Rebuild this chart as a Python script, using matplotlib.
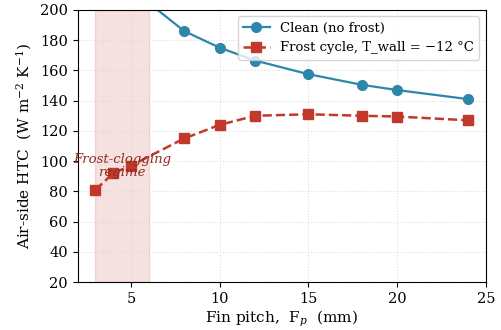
import matplotlib
matplotlib.use("Agg")
import matplotlib.pyplot as plt

plt.rcParams['font.family'] = ['DejaVu Serif']
plt.rcParams['mathtext.fontset'] = 'dejavuserif'

fin_pitch = [3, 4, 5, 8, 10, 12, 15, 18, 20, 24]
htc_clean = [262, 236, 214, 186, 175, 166.5, 157.5, 150.5, 147, 141]
htc_frost = [81, 92, 97, 115, 124, 130, 131, 130, 129.5, 127]

fig, ax = plt.subplots(figsize=(5.01, 3.30), dpi=100)

ax.axvspan(3, 6, color='#c0392b', alpha=0.15)
ax.plot(fin_pitch, htc_clean, '-o', color='#2e86ab', lw=1.6, ms=7,
        label='Clean (no frost)')
ax.plot(fin_pitch, htc_frost, '--s', color='#c0392b', lw=1.8, ms=7,
        label='Frost cycle, T_wall = \u221212 \u00b0C')
ax.text(4.5, 96.5, 'Frost-clogging\nregime', style='italic', color='#922b21',
        ha='center', va='center', fontsize=9.5, linespacing=1.0)

ax.set_xlim(2, 25)
ax.set_ylim(20, 200)
ax.set_yticks(range(20, 201, 20))
ax.set_xlabel('Fin pitch,  F$_p$  (mm)', fontsize=11, labelpad=2)
ax.set_ylabel('Air-side HTC  (W m$^{-2}$ K$^{-1}$)', fontsize=11)
ax.grid(True, ls=':', color='#dddddd', lw=0.8)
ax.tick_params(labelsize=10.5)
ax.legend(loc='upper right', fontsize=9.5)

fig.subplots_adjust(left=0.155, right=0.97, top=0.97, bottom=0.145)
fig.savefig('out.png')
